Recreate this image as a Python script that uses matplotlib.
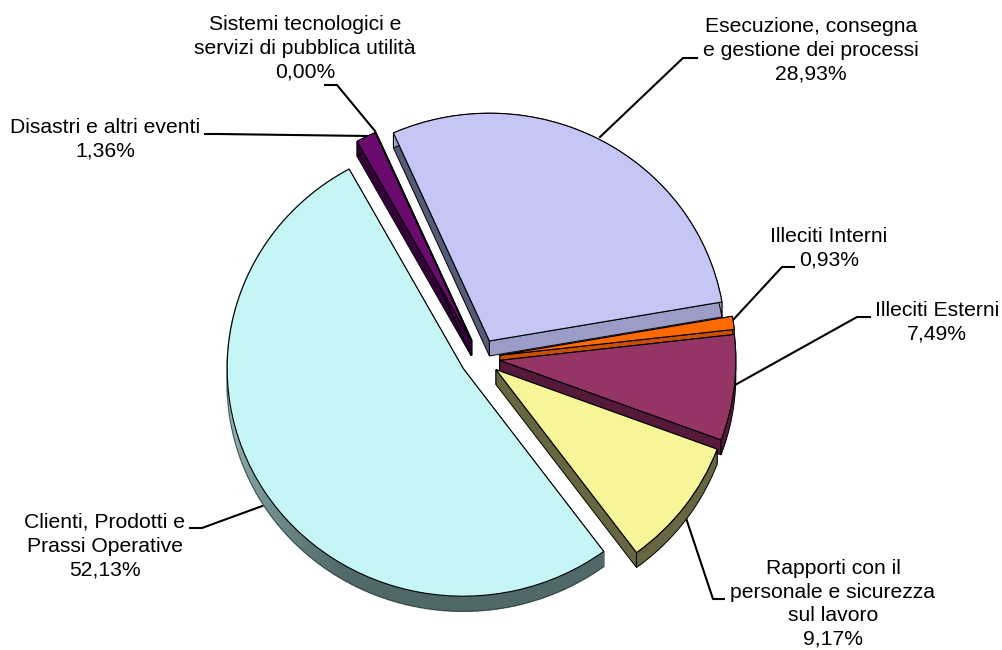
import numpy as np
import matplotlib
matplotlib.use('Agg')
import matplotlib.pyplot as plt
from matplotlib.colors import to_rgb

# slices, clockwise from the top left
values = [28.93, 0.93, 7.49, 9.17, 52.13, 1.36, 0.00]
labels = ['Esecuzione, consegna\ne gestione dei processi\n28,93%',
          'Illeciti Interni\n0,93%',
          'Illeciti Esterni\n7,49%',
          'Rapporti con il\npersonale e sicurezza\nsul lavoro\n9,17%',
          'Clienti, Prodotti e\nPrassi Operative\n52,13%',
          'Disastri e altri eventi\n1,36%',
          'Sistemi tecnologici e\nservizi di pubblica utilità\n0,00%']
top_colors = ['#c5c5f6', '#ff6a00', '#943565', '#f6f698', '#c5f5f5', '#6a0a6e', '#6a0a6e']
rim_colors = ['#9c9cc8', '#c85000', '#551a3a', '#666640', '#506868', '#33003a', '#33003a']
start_face = ['#555a78', '#c85000', '#551a3a', '#666640', '#506868', '#33003a', '#33003a']
end_face = ['#9c9cc8', '#c85000', '#551a3a', '#666640', '#506868', '#33003a', '#33003a']

# label centres and leader lines, in picture pixels
label_pos = [(811, 50), (829, 248), (937, 322), (833, 604), (105, 546), (105, 139), (305, 48)]
leaders = [[(600, 137), (683, 58), (697, 58)],
           [(733, 320), (782, 267), (794, 267)],
           [(735, 385), (857, 317), (870, 317)],
           [(686, 518), (713, 599), (724, 599)],
           [(265, 505), (202, 528), (190, 528)],
           [(368, 136), (218, 134), (205, 134)],
           [(375, 131), (337, 85), (325, 85)]]

squash = 0.965
depth = 15 / squash
W, H = 1002, 650

fig = plt.figure(figsize=(10.02, 6.5), dpi=100)
ax = fig.add_axes([0, 0, 1, 1])
wedges, _ = ax.pie(values, startangle=114, counterclock=False, center=(480, (H - 358) / squash),
                   radius=236, explode=[20] * len(values),
                   colors=top_colors, wedgeprops={'edgecolor': 'black', 'linewidth': 0.8})
ax.set_aspect('auto')
ax.set_xlim(0, W)
ax.set_ylim(0, H / squash)
ax.axis('off')


def face(x, y, color, z):
    ax.fill(x, y, color=color, ec='black', lw=0.7, zorder=z)


# back to front: disastri and esecuzione first, clienti last
order = [6, 5, 0, 1, 2, 3, 4]
for n, i in enumerate(order):
    w = wedges[i]
    z = 2 + n
    cx, cy = w.center
    t = np.radians(np.linspace(w.theta1, w.theta2, 120))
    ex = cx + w.r * np.cos(t)
    ey = cy + w.r * np.sin(t)
    # theta2 is the edge met first going clockwise
    face([cx, ex[-1], ex[-1], cx], [cy, ey[-1], ey[-1] - depth, cy - depth], start_face[i], z)
    face([cx, ex[0], ex[0], cx], [cy, ey[0], ey[0] - depth, cy - depth], end_face[i], z)
    if i == 4:
        # the long rim gets lighter towards the left
        dark = np.array(to_rgb(rim_colors[i]))
        light = np.array(to_rgb('#93b3b3'))
        for j in range(len(t) - 1):
            a = np.degrees(t[j]) % 360
            f = np.clip((240 - a) / 50, 0, 1)
            c = dark + (light - dark) * f
            ax.fill([ex[j], ex[j + 1], ex[j + 1], ex[j]],
                    [ey[j], ey[j + 1], ey[j + 1] - depth, ey[j] - depth],
                    fc=c, ec=c, lw=1.2, zorder=z)
        ax.plot(ex, ey - depth, color='#303c3c', lw=0.5, zorder=z)
    else:
        face(np.r_[ex, ex[::-1]], np.r_[ey, ey[::-1] - depth], rim_colors[i], z)
    w.set_zorder(z + 0.5)

# overlay in pixel coordinates for labels and leaders
over = fig.add_axes([0, 0, 1, 1], zorder=-1)
over.set_xlim(0, W)
over.set_ylim(H, 0)
over.axis('off')
for line in leaders:
    over.plot([p[0] for p in line], [p[1] for p in line], color='black', lw=1.5)
ax.patch.set_alpha(0)
for txt, (x, y) in zip(labels, label_pos):
    over.text(x, y, txt, ha='center', va='center', family='Liberation Sans',
              fontsize=15.2, linespacing=1.3, color='black')

fig.savefig('out.png', dpi=100)
